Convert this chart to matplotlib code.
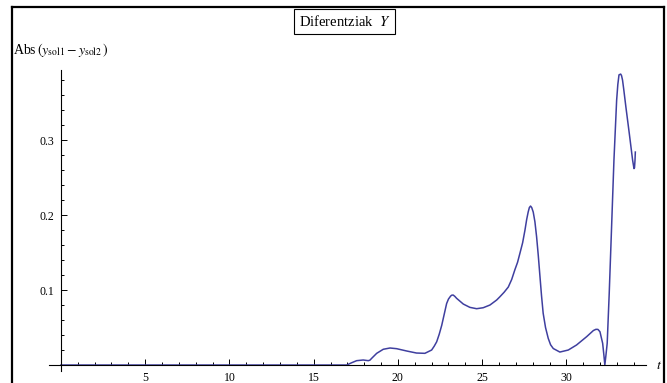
import numpy as np
import matplotlib
matplotlib.use('Agg')
import matplotlib.pyplot as plt
from matplotlib.lines import Line2D
from matplotlib.ticker import MultipleLocator

plt.rcParams['font.family'] = 'Liberation Serif'
plt.rcParams['mathtext.fontset'] = 'stix'

# |y_sol1 - y_sol2| against t
t = [0, 2, 4, 6, 8, 10, 12, 14, 16, 16.96, 17.25, 17.55, 17.94, 18.24, 18.34,
     18.44, 18.74, 19.13, 19.53, 19.92, 20.52, 21.1, 21.6, 22.0, 22.15, 22.3,
     22.45, 22.6, 22.75, 22.89, 23.0, 23.13, 23.2, 23.28, 23.38, 23.48, 23.88,
     24.27, 24.67, 25.06, 25.46, 25.86, 26.05, 26.3, 26.55, 26.75, 26.94,
     27.1, 27.24, 27.4, 27.54, 27.64, 27.73, 27.8, 27.87, 27.94, 28.03, 28.13,
     28.23, 28.33, 28.43, 28.52, 28.62, 28.76, 28.92, 29.06, 29.22, 29.61,
     30.11, 30.6, 31.2, 31.6, 31.75, 31.87, 31.99, 32.15, 32.22, 32.28, 32.35,
     32.42, 32.54, 32.68, 32.82, 32.98, 33.05, 33.12, 33.22, 33.27, 33.33,
     33.4, 33.53, 33.73, 33.93, 34.01, 34.04, 34.07, 34.09]
diff = [0, 0, 0, 0, 0, 0, 0, 0, 0, 0.0, 0.003, 0.0058, 0.0067, 0.0058, 0.0065,
        0.0089, 0.0156, 0.021, 0.0227, 0.0218, 0.0187, 0.016, 0.0156, 0.020, 0.025, 0.031,
        0.041, 0.053, 0.068, 0.082, 0.088, 0.092, 0.0932, 0.0933, 0.0915, 0.089, 0.0813,
        0.0769, 0.0751, 0.0764, 0.080, 0.0867, 0.091, 0.097, 0.104, 0.114, 0.127,
        0.137, 0.149, 0.163, 0.180, 0.194, 0.204, 0.210, 0.212, 0.210, 0.204, 0.191,
        0.171, 0.146, 0.118, 0.093, 0.069, 0.050, 0.0356, 0.027, 0.022, 0.0173,
        0.020, 0.0267, 0.0378, 0.046, 0.0476, 0.0475, 0.0444, 0.029, 0.014, 0.0, 0.014,
        0.029, 0.0956, 0.184, 0.273, 0.353, 0.374, 0.387, 0.388, 0.386, 0.380,
        0.368, 0.344, 0.309, 0.273, 0.262, 0.263, 0.273, 0.284]

fig = plt.figure(figsize=(6.67, 3.83), dpi=100)
ax = fig.add_axes([0.0742, 0.0303, 0.895, 0.788])

ax.plot(t, diff, color='#3f3f9f', lw=1.1, solid_joinstyle='round')
ax.set_xlim(-0.68, 34.75)
ax.set_ylim(-0.0085, 0.394)

# axes crossing at the origin
ax.spines['left'].set_position(('data', 0))
ax.spines['bottom'].set_position(('data', 0))
ax.spines['top'].set_visible(False)
ax.spines['right'].set_visible(False)
for s in ('left', 'bottom'):
    ax.spines[s].set_linewidth(0.8)

ax.xaxis.set_major_locator(MultipleLocator(5))
ax.xaxis.set_minor_locator(MultipleLocator(1))
ax.yaxis.set_major_locator(MultipleLocator(0.1))
ax.yaxis.set_minor_locator(MultipleLocator(0.02))
ax.set_xticks([5, 10, 15, 20, 25, 30])
ax.set_yticks([0.1, 0.2, 0.3])
ax.tick_params(which='both', direction='in', labelsize=8.5, width=0.7)
ax.tick_params(which='major', length=4.5, pad=5)
ax.tick_params(which='minor', length=2.5)

ax.annotate('$t$', xy=(1, 0), xycoords=('axes fraction', 'data'),
            xytext=(7, 0), textcoords='offset points', va='center', fontsize=10)
ax.text(-0.061, 1.065, r'Abs$\,(y_{\mathrm{sol1}} - y_{\mathrm{sol2}}\,)$',
        transform=ax.transAxes, ha='left', va='center', fontsize=10)

fig.text(0.5165, 0.944, r'Diferentziak  $Y$', ha='center', va='center', fontsize=10.5,
         bbox=dict(boxstyle='square,pad=0.35', fc='white', ec='black', lw=0.8))

# outer frame
frame = dict(color='black', lw=1.6, transform=fig.transFigure)
fig.add_artist(Line2D([0.0185, 0.0185], [0, 0.983], **frame))
fig.add_artist(Line2D([0.0185, 0.9955], [0.983, 0.983], **frame))
fig.add_artist(Line2D([0.9955, 0.9955], [0, 0.983], **frame))

fig.savefig('out.png', dpi=100)
